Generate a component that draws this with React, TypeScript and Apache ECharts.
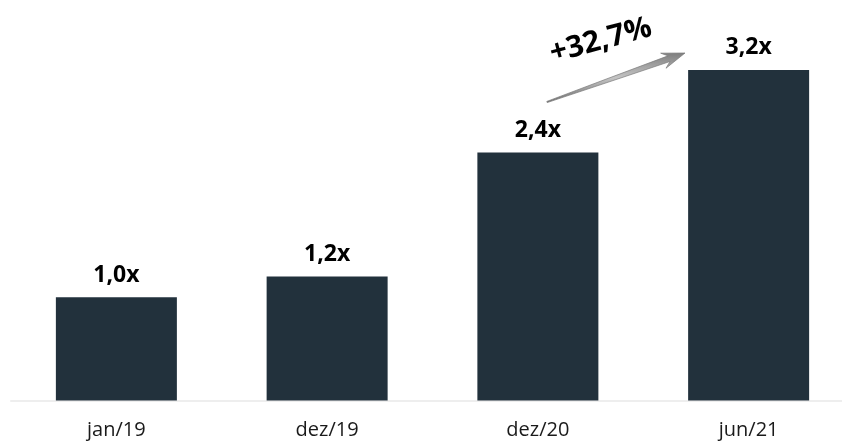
import React, { useEffect, useRef } from "react";
import * as echarts from "echarts";

const categories = ["jan/19", "dez/19", "dez/20", "jun/21"];
const values = [1.0, 1.2, 2.4, 3.2];
const valueLabels = ["1,0x", "1,2x", "2,4x", "3,2x"];
const growthLabel = "+32,7%";

export default function App() {
  const ref = useRef<HTMLDivElement>(null);
  useEffect(() => {
    if (!ref.current) return;
    const chart = echarts.init(ref.current, undefined, { renderer: "svg" });
    const font = "'Open Sans', 'Noto Sans', sans-serif";
    const tail = [547, 102];
    const tip = [685, 53];
    const dx = tip[0] - tail[0];
    const dy = tip[1] - tail[1];
    const len = Math.sqrt(dx * dx + dy * dy);
    const ux = dx / len, uy = dy / len;
    const px = -uy, py = ux;
    const pt = (d: number, w: number) => [tip[0] - ux * d + px * w, tip[1] - uy * d + py * w];
    const arrowPoints = [
      [tail[0] + px * 0.6, tail[1] + py * 0.6],
      pt(17, 3),
      pt(23, 8),
      tip,
      pt(23, -8),
      pt(17, -3),
      [tail[0] - px * 0.6, tail[1] - py * 0.6],
    ];
    chart.setOption({
      animation: false,
      grid: { left: 11, right: 6, top: 10, bottom: 43.5 },
      xAxis: {
        type: "category",
        data: categories,
        axisLine: { show: true, lineStyle: { color: "#eeeeee", width: 2 } },
        axisTick: { show: false },
        axisLabel: { color: "#1a1a1a", fontFamily: font, fontSize: 20, margin: 18 },
      },
      yAxis: { type: "value", show: false, min: 0, max: 3.78, splitLine: { show: false } },
      series: [
        {
          type: "bar",
          data: values,
          barWidth: 121,
          itemStyle: { color: "#22313c" },
          label: {
            show: true,
            position: "top",
            distance: 13,
            formatter: (p: any) => valueLabels[p.dataIndex],
            fontFamily: font,
            fontWeight: "bold",
            fontSize: 23,
            color: "#000000",
          },
        },
      ],
      graphic: [
        {
          type: "polygon",
          shape: { points: arrowPoints },
          style: {
            fill: new echarts.graphic.LinearGradient(0, 0, 0, 1, [
              { offset: 0, color: "#7e7e7e" },
              { offset: 0.5, color: "#c4c4c4" },
              { offset: 1, color: "#707070" },
            ]),
            stroke: "#7a7a7a",
            lineWidth: 0.7,
          },
        },
        {
          type: "text",
          x: 600,
          y: 38,
          rotation: (15 * Math.PI) / 180,
          style: {
            text: growthLabel,
            fontFamily: font,
            fontWeight: "bold",
            fontSize: 30,
            fill: "#000000",
            align: "center",
            verticalAlign: "middle",
          },
        },
      ],
    });
    return () => chart.dispose();
  }, []);
  return (
    <div
      ref={ref}
      style={{ position: "fixed", left: 0, top: 0, width: 860, height: 444 }}
    />
  );
}
